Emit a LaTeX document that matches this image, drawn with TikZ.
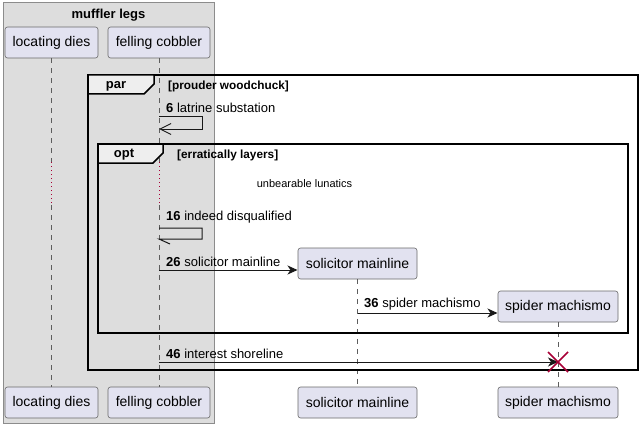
\documentclass[tikz,border=0pt]{standalone}
\usepackage{fontspec}
\setmainfont{Liberation Sans}
\usetikzlibrary{arrows.meta}
\definecolor{pfill}{HTML}{E2E2F0}
\definecolor{grpfill}{HTML}{DDDDDD}
\definecolor{grpline}{HTML}{8C8C8C}
\definecolor{tabfill}{HTML}{EEEEEE}
\definecolor{dred}{HTML}{A80036}
\definecolor{lline}{HTML}{181818}
\begin{document}
\begin{tikzpicture}[x=1pt,y=-1pt,
  part/.style={draw=lline!65, line width=0.6pt, fill=pfill, rounded corners=2.5pt,
    minimum width=#1, minimum height=31pt, inner sep=0pt,
    font=\fontsize{14}{16}\selectfont},
  life/.style={draw=lline!70, line width=0.6pt, dash pattern=on 5pt off 5pt},
  delay/.style={draw=dred, line width=0.8pt, dash pattern=on 1pt off 3pt},
  frameline/.style={draw=black, line width=1.5pt},
  tabshape/.style={draw=black, line width=1.5pt, fill=tabfill},
  msgtxt/.style={anchor=west, inner sep=0pt, font=\fontsize{13}{15}\selectfont},
  msg/.style={draw=lline, line width=1pt, -{Stealth[length=10pt,width=9pt,inset=3pt]}},
  selfmsg/.style={draw=lline, line width=1pt},
  barb/.style={-{Straight Barb[length=11pt,width=11pt,line width=1pt]}},
  lbl/.style={anchor=west, inner sep=0pt, font=\bfseries\fontsize{11.8}{13}\selectfont},
]
\useasboundingbox (0,0) rectangle (643,428);

% group box
\draw[fill=grpfill, draw=grpline, line width=1pt] (3,3) rectangle (214,423);
\node[font=\bfseries\fontsize{13}{15}\selectfont, inner sep=0pt] (grp) at (108.5,15) {muffler legs};

% participants (top)
\node[part=93] (ld) at (51.5,42.5) {locating dies};
\node[part=102] (fc) at (159,42.5) {felling cobbler};
% participants (bottom)
\node[part=93] (ldb) at (51.5,402.5) {locating dies};
\node[part=102] (fcb) at (159,402.5) {felling cobbler};
\node[part=119] (smb) at (357.5,402.5) {solicitor mainline};
\node[part=120] (spb) at (558,402.5) {spider machismo};

% lifeline delay points
\coordinate (ld1) at (51.5,162);
\coordinate (ld2) at (51.5,205);
\coordinate (fc1) at (159,162);
\coordinate (fc2) at (159,205);

\draw[life] (ld.south) -- (ld1);
\draw[delay] (ld1) -- (ld2);
\draw[life] (ld2) -- (ldb.north);
\draw[life] (fc.south) -- (fc1);
\draw[delay] (fc1) -- (fc2);
\draw[life] (fc2) -- (fcb.north);

% created participants
\node[part=119] (sm) at (357.5,263.5) {solicitor mainline};
\node[part=120] (sp) at (558,306.5) {spider machismo};
\draw[life] (sm.south) -- (smb.north);
\draw[life] (sp.south) -- (spb.north);

% par frame
\draw[frameline] (88,75) rectangle (638,370);
\draw[tabshape] (88,75) -- (154,75) -- (154,84) -- (144,94) -- (88,94) -- cycle;
\node[font=\bfseries\fontsize{13}{15}\selectfont, inner sep=0pt] (partab) at (116,86) {par};
\node[lbl] (parlbl) at (168,86) {[prouder woodchuck]};

% opt frame
\draw[frameline] (98,144) rectangle (628,333);
\draw[tabshape] (98,144) -- (163,144) -- (163,153) -- (153,163) -- (98,163) -- cycle;
\node[font=\bfseries\fontsize{13}{15}\selectfont, inner sep=0pt] (opttab) at (124,155) {opt};
\node[lbl] (optlbl) at (177,155) {[erratically layers]};

% delay text
\node[inner sep=0pt, font=\fontsize{11}{13}\selectfont] (dly) at (304.5,184) {unbearable lunatics};

% message 6
\coordinate (s6a) at (159,116);
\coordinate (s6b) at (159,129);
\node[msgtxt] (t6) at (166,108) {\textbf{6} latrine substation};
\draw[selfmsg, barb] (s6a) -- ++(43,0) |- (s6b);

% message 16
\coordinate (s16a) at (159,228);
\coordinate (s16b) at (159,239);
\node[msgtxt] (t16) at (166,217) {\textbf{16} indeed disqualified};
\draw[selfmsg] (s16a) -- ++(43,0) |- (s16b) -- ++(11,5);

% message 26
\coordinate (m26a) at (159,270);
\coordinate (m26b) at (297.5,270);
\node[msgtxt] (t26) at (166,262) {\textbf{26} solicitor mainline};
\draw[msg] (m26a) -- (m26b);

% message 36
\coordinate (m36a) at (357.5,313);
\coordinate (m36b) at (497.5,313);
\node[msgtxt] (t36) at (364,304) {\textbf{36} spider machismo};
\draw[msg] (m36a) -- (m36b);

% message 46 + destroy
\coordinate (m46a) at (159,362);
\coordinate (x46) at (558,362);
\node[msgtxt] (t46) at (166,354) {\textbf{46} interest shoreline};
\draw[msg] (m46a) -- (x46);
\draw[draw=dred, line width=1.6pt] (x46) ++(-10,-10) -- ++(20,20) (x46) ++(-10,10) -- ++(20,-20);

\end{tikzpicture}
\end{document}
